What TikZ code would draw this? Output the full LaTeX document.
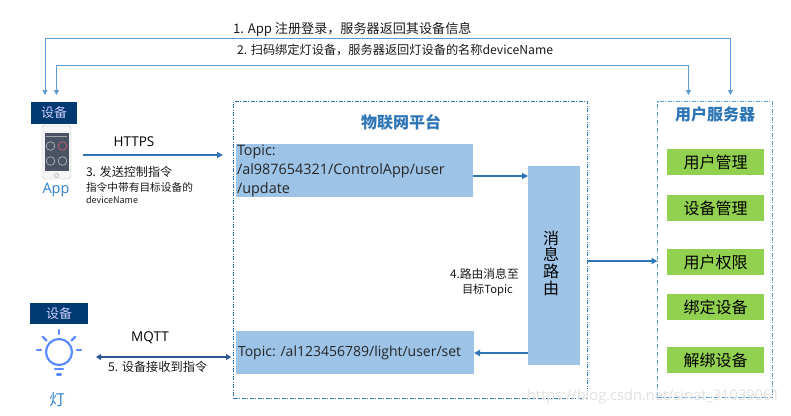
\documentclass[tikz,border=0pt]{standalone}
\usepackage{fontspec}
\setmainfont{Noto Sans CJK SC}
\newfontfamily\latinfont{Open Sans}
\usetikzlibrary{arrows.meta}
\definecolor{lineblue}{HTML}{5B9BD5}
\definecolor{darkblue}{HTML}{2E75B6}
\definecolor{navyblue}{HTML}{2F5597}
\definecolor{fillblue}{HTML}{9DC3E6}
\definecolor{leafgreen}{HTML}{92D050}
\definecolor{headnavy}{HTML}{003A70}
\definecolor{bulbblue}{HTML}{5B8CFF}
\definecolor{screen}{HTML}{4A5364}
\definecolor{applabelc}{HTML}{2F80CC}
\newcommand{\fs}[1]{\fontsize{#1}{#1}\selectfont}
\tikzset{
  x=1pt,y=-1pt,
  every node/.style={inner sep=0pt,outer sep=0pt},
  txt/.style={anchor=west,text=black!90},
  thinarrow/.style={draw=lineblue,line width=0.9pt,-{Triangle[length=5pt,width=5pt]}},
  thickarrow/.style={draw=darkblue,line width=1.6pt,-{Triangle[length=6pt,width=6pt]}},
  dashedbox/.style={draw=darkblue,line width=0.7pt,dash pattern=on 4pt off 1.5pt on 1pt off 1.5pt},
  bluebox/.style={fill=fillblue,anchor=north west},
  greenbox/.style={fill=leafgreen,minimum width=97pt,minimum height=26pt,font=\fs{16}},
  devhead/.style={fill=headnavy,text=white!80!blue,font=\fs{13}},
  topictxt/.style={anchor=west,font=\fs{14.4},text=black!85},
}
\begin{document}
\begin{tikzpicture}
\useasboundingbox (0,0) rectangle (791,415);
% containers
\node[dashedbox,minimum width=354pt,minimum height=297pt,anchor=north west] (platform) at (233.5,101) {};
\node[dashedbox,draw=lineblue,minimum width=115pt,minimum height=296pt,anchor=north west] (server) at (657.5,101.5) {};
% titles
\node[text=darkblue,font=\fs{16}\bfseries] (ptitle) at (401,122) {物联网平台};
\node[text=darkblue,font=\fs{16}\bfseries] (stitle) at (715,114) {用户服务器};
% device headers
\node[devhead,minimum width=46pt,minimum height=22pt] (dev1) at (54,113) {设备};
\node[devhead,minimum width=58pt,minimum height=21pt] (dev2) at (59,313.5) {设备};
% phone
\node[draw=black!25,fill=black!4,rounded corners=3pt,minimum width=29pt,minimum height=54pt] (phone) at (56.5,152) {};
\fill[screen] (45,133) rectangle (68.5,171);
\foreach \cx/\cy/\cc in {50.5/146/black!25,62.5/146/red!70!black!60,50.5/161/black!25,62.5/161/black!25}
  \draw[\cc,line width=0.6pt] (\cx,\cy) circle (4.3);
\fill[black!35] (46,135.5) rectangle (67,137);
\draw[black!35,line width=0.5pt] (56.5,175.5) circle (2);
\node[text=applabelc,font=\fs{14.5}] (applabel) at (56,190.5) {\latinfont App};
% bulb
\coordinate (bulb) at (59,352);
\begin{scope}[draw=bulbblue,line width=2.2pt,line cap=round]
  \draw (bulb) circle (13);
  \draw (59,330) -- (59,334);
  \draw (43,337) -- (46.5,340.5);
  \draw (75,337) -- (71.5,340.5);
  \draw (37,350) -- (41,350);
  \draw (77,350) -- (81,350);
  \draw (55,369) -- (63,369);
  \draw (57,374.5) -- (61,374.5);
\end{scope}
\node[text=applabelc,font=\fs{15.5}] (lamp) at (57,400) {灯};
% platform content
\node[bluebox,minimum width=237pt,minimum height=53pt] (topic1) at (236,144) {};
\node[topictxt] (t1a) at (237,152) {\latinfont Topic:};
\node[topictxt] (t1b) at (237,171) {\latinfont /al987654321/ControlApp/user};
\node[topictxt] (t1c) at (237,190) {\latinfont /update};
\node[bluebox,minimum width=238pt,minimum height=43pt] (topic2) at (236,331) {};
\node[topictxt,font=\fs{14}] (topic2t) at (238,352.5) {\latinfont Topic: /al123456789/light/user/set};
\node[bluebox,minimum width=52pt,minimum height=199pt] (route) at (528,166) {};
\node[font=\fs{16}] (r1) at (551,238) {消};
\node[font=\fs{16}] (r2) at (551,254.5) {息};
\node[font=\fs{16}] (r3) at (551,271) {路};
\node[font=\fs{16}] (r4) at (551,288) {由};
\node[txt,font=\fs{11.8}] (l4a) at (450,274) {4.路由消息至};
\node[txt,font=\fs{11.2}] (l4b) at (462,290) {目标Topic};
% server content
\node[greenbox] (g1) at (715.5,162) {用户管理};
\node[greenbox] (g2) at (715.5,208) {设备管理};
\node[greenbox] (g3) at (715.5,262) {用户权限};
\node[greenbox] (g4) at (715.5,307) {绑定设备};
\node[greenbox] (g5) at (715.5,360) {解绑设备};
% top labels
\node[txt,font=\fs{13.1}] (l1) at (233,29) {1. App 注册登录，服务器返回其设备信息};
\node[txt,font=\fs{12.2}] (l2) at (237,50) {2. 扫码绑定灯设备，服务器返回灯设备的名称deviceName};
\node[font=\fs{13.5}] (https) at (134,142) {\latinfont HTTPS};
\node[txt,font=\fs{12.1}] (l3) at (86,172) {3. 发送控制指令};
\node[txt,font=\fs{10.7}] (l3b) at (86,187) {指令中带有目标设备的};
\node[txt,font=\fs{9}] (l3c) at (86,199.5) {deviceName};
\node[font=\fs{13.5}] (mqtt) at (150,338) {\latinfont MQTT};
\node[txt,font=\fs{12.2}] (l5) at (108,367) {5. 设备接收到指令};
% connectors
\coordinate (a1s) at (730.5,95);
\coordinate (a1e) at (45,95);
\coordinate (a2s) at (688.5,95);
\coordinate (a2e) at (56.5,95);
\draw[thinarrow] (730.5,60) -- (a1s);
\draw[draw=lineblue,line width=0.9pt] (730.5,60) -- (730.5,38) -- (45,38) -- (45,60);
\draw[thinarrow] (45,60) -- (a1e);
\draw[thinarrow] (56.5,65) -- (a2e);
\draw[thinarrow] (688.5,65) -- (a2s);
\draw[draw=lineblue,line width=0.9pt] (56.5,65) -- (688.5,65);
\coordinate (h1) at (83,155);
\coordinate (h2) at (223,155);
\draw[thickarrow] (h1) -- (h2);
\coordinate (m1) at (96,357);
\coordinate (m2) at (231,357);
\draw[draw=navyblue,line width=1.5pt,{Triangle[length=5pt,width=6pt]}-{Triangle[length=5pt,width=6pt]}] (m1) -- (m2);
\draw[thickarrow] (topic1.east |- 0,176) -- (route.west |- 0,176);
\draw[thickarrow] (route.west |- 0,353) -- (topic2.east |- 0,353);
\draw[thickarrow] (platform.east |- 0,261) -- (server.west |- 0,261);
% watermark
\node[anchor=west,text=black!12,font=\fs{14.6}] (wm) at (527,397) {\latinfont https://blog.csdn.net/sinat\_31039061};
\end{tikzpicture}
\end{document}
